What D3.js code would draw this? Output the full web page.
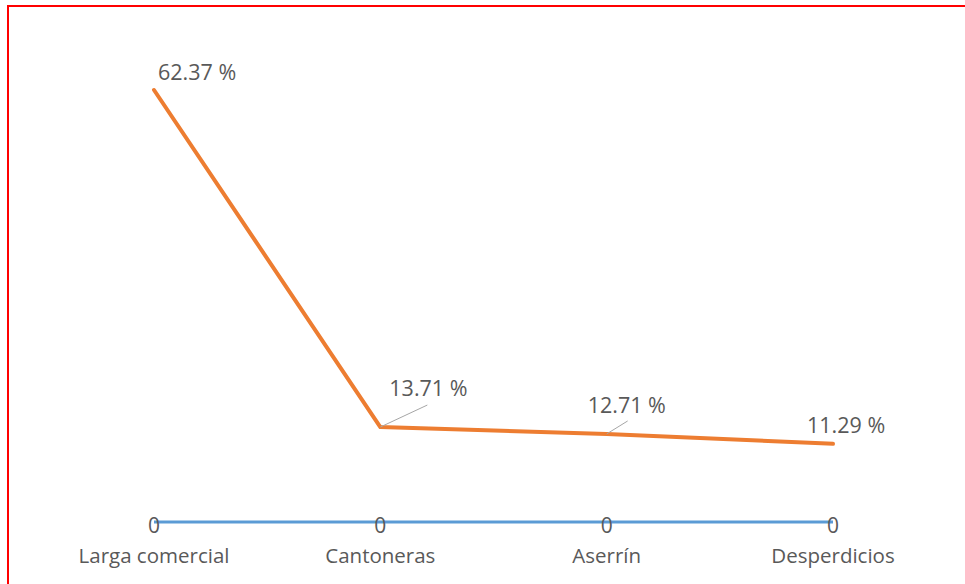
<!DOCTYPE html>
<html>
<head>
<meta charset="utf-8">
<script src="https://cdn.jsdelivr.net/npm/d3@7"></script>
<style>
  body { margin: 0; background: #fff; }
  svg { display: block; }
</style>
</head>
<body>
<div id="chart"></div>
<script>
const categories = ["Larga comercial", "Cantoneras", "Aserrín", "Desperdicios"];
const pctValues = [62.37, 13.71, 12.71, 11.29];
const zeroValues = [0, 0, 0, 0];
const pctLabels = ["62.37 %", "13.71 %", "12.71 %", "11.29 %"];

const width = 965, height = 584;
const svg = d3.select("#chart").append("svg")
    .attr("width", width)
    .attr("height", height);

// red frame (only top and left visible)
svg.append("rect")
    .attr("x", 8).attr("y", 6)
    .attr("width", 1000).attr("height", 700)
    .attr("fill", "none")
    .attr("stroke", "#ff0000")
    .attr("stroke-width", 2);

const x = d3.scalePoint().domain(categories).range([154, 833]);
const y = d3.scaleLinear().domain([0, 62.37]).range([522, 90]);

const font = "'Open Sans', Lato, sans-serif";

// zero series
svg.append("path")
    .datum(zeroValues)
    .attr("fill", "none")
    .attr("stroke", "#5B9BD5")
    .attr("stroke-width", 3)
    .attr("d", d3.line().x((d, i) => x(categories[i])).y(d => y(d)));

// percentage series
svg.append("path")
    .datum(pctValues)
    .attr("fill", "none")
    .attr("stroke", "#ED7D31")
    .attr("stroke-width", 4)
    .attr("stroke-linejoin", "round")
    .attr("stroke-linecap", "round")
    .attr("d", d3.line().x((d, i) => x(categories[i])).y(d => y(d)));

// zero labels on blue line
svg.selectAll(".zero-label")
    .data(zeroValues)
    .join("text")
    .attr("class", "zero-label")
    .attr("x", (d, i) => x(categories[i]))
    .attr("y", d => y(d) + 11)
    .attr("text-anchor", "middle")
    .attr("font-family", font)
    .attr("font-size", 21)
    .attr("fill", "#595959")
    .text(d => d);

// category labels
svg.selectAll(".cat-label")
    .data(categories)
    .join("text")
    .attr("class", "cat-label")
    .attr("x", d => x(d))
    .attr("y", 563)
    .attr("text-anchor", "middle")
    .attr("font-family", font)
    .attr("font-size", 20.5)
    .attr("fill", "#595959")
    .text(d => d);

// data label offsets (dx, dy from the point to the label's left/baseline)
const labelOffsets = [[4, -10], [9, -31], [-19, -21], [-26, -11]];
const leaders = [null, [47, -22], [21, -13], null];

svg.selectAll(".leader")
    .data(pctValues.map((v, i) => ({ v, i })).filter(d => leaders[d.i]))
    .join("line")
    .attr("class", "leader")
    .attr("x1", d => x(categories[d.i]))
    .attr("y1", d => y(d.v))
    .attr("x2", d => x(categories[d.i]) + leaders[d.i][0])
    .attr("y2", d => y(d.v) + leaders[d.i][1])
    .attr("stroke", "#A6A6A6")
    .attr("stroke-width", 1);

svg.selectAll(".pct-label")
    .data(pctValues)
    .join("text")
    .attr("class", "pct-label")
    .attr("x", (d, i) => x(categories[i]) + labelOffsets[i][0])
    .attr("y", (d, i) => y(d) + labelOffsets[i][1])
    .attr("font-family", font)
    .attr("font-size", 21.5)
    .attr("fill", "#595959")
    .text((d, i) => pctLabels[i]);
</script>
</body>
</html>
